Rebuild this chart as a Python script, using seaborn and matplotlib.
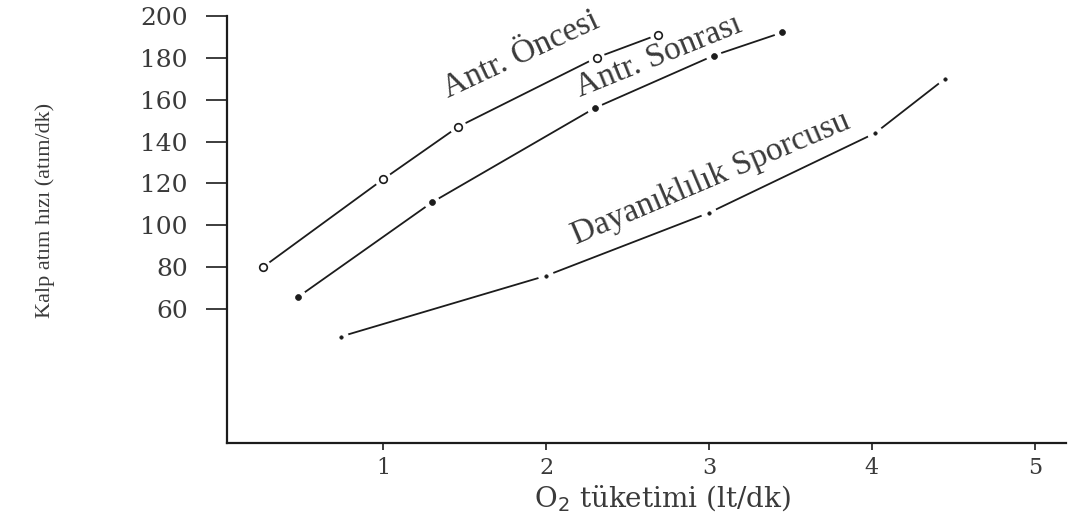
import matplotlib
matplotlib.use("Agg")
import matplotlib.pyplot as plt
import seaborn as sns
import pandas as pd

# O2 consumption (lt/dk) and heart rate (atım/dk) for each group
oncesi_x = [0.26, 1.0, 1.46, 2.31, 2.69]
oncesi_y = [80, 122, 147, 180, 191]

sonrasi_x = [0.48, 1.30, 2.30, 3.03, 3.45]
sonrasi_y = [66, 111, 156, 181, 192]

sporcu_x = [0.74, 2.0, 3.0, 4.02, 4.45]
sporcu_y = [47, 76, 106, 144, 170]

series_names = ["Antr. Öncesi", "Antr. Sonrası", "Dayanıklılık Sporcusu"]
x_ticks = [1, 2, 3, 4, 5]
y_ticks = [60, 80, 100, 120, 140, 160, 180, 200]

df = pd.concat([
    pd.DataFrame({"x": oncesi_x, "y": oncesi_y, "grup": series_names[0]}),
    pd.DataFrame({"x": sonrasi_x, "y": sonrasi_y, "grup": series_names[1]}),
    pd.DataFrame({"x": sporcu_x, "y": sporcu_y, "grup": series_names[2]}),
])

sns.set_theme(style="ticks")
plt.rcParams["font.family"] = ["DejaVu Serif"]

ink = "#1c1c1c"
text_col = "#3a3a3a"

fig = plt.figure(figsize=(10.71, 5.13), dpi=100)
ax = fig.add_axes([0.2117, 0.137, 0.7833, 0.8324])

marker_style = {
    series_names[0]: dict(marker="o", s=30, fc="white", ec=ink, lw=1.2, halo=150),
    series_names[1]: dict(marker="o", s=18, fc=ink, ec=ink, lw=0.5, halo=130),
    series_names[2]: dict(marker="o", s=6, fc=ink, ec=ink, lw=0.5, halo=130),
}

for name in series_names:
    sub = df[df["grup"] == name]
    st = marker_style[name]
    sns.lineplot(data=sub, x="x", y="y", ax=ax, color=ink, linewidth=1.3,
                 sort=False, estimator=None, legend=False, zorder=2)
    # white halo so the curve stops short of each point
    sns.scatterplot(data=sub, x="x", y="y", ax=ax, s=st["halo"], color="white",
                    edgecolor="none", legend=False, zorder=3)
    sns.scatterplot(data=sub, x="x", y="y", ax=ax, marker=st["marker"], s=st["s"],
                    facecolor=st["fc"], edgecolor=st["ec"], linewidth=st["lw"],
                    legend=False, zorder=4)

# curve labels written along each line
label_kw = dict(rotation_mode="anchor", ha="center", va="baseline",
                fontsize=24, color=text_col, family="Liberation Serif")
ax.text(1.87, 178, "Antr. Öncesi", rotation=25, **label_kw)
ax.text(2.71, 177, "Antr. Sonrası", rotation=22, **label_kw)
ax.text(3.03, 119, "Dayanıklılık Sporcusu", rotation=23, **label_kw)

ax.set_xlim(0.04, 5.19)
ax.set_ylim(-3.6, 200)
ax.set_xticks(x_ticks)
ax.set_xticklabels([str(t) for t in x_ticks])
ax.set_yticks(y_ticks)
ax.set_yticklabels([str(t) for t in y_ticks])

sns.despine(ax=ax)
for side in ("left", "bottom"):
    ax.spines[side].set_color(ink)
    ax.spines[side].set_linewidth(1.6)

ax.tick_params(axis="y", direction="out", length=15, width=1.2, color=ink,
               pad=13, labelsize=18, labelcolor=text_col)
ax.tick_params(axis="x", direction="out", length=5, width=1.2, color=ink,
               pad=5, labelsize=16, labelcolor=text_col)

ax.set_xlabel("O$_2$ tüketimi (lt/dk)", fontsize=20, color=text_col)
ax.xaxis.set_label_coords(0.519, -0.096)
ax.set_ylabel("Kalp atım hızı (atım/dk)", fontsize=16, color=text_col,
              family="Liberation Serif")
ax.yaxis.set_label_coords(-0.205, 0.545)

ax.grid(False)
fig.savefig("out.png", dpi=100, facecolor="white")
